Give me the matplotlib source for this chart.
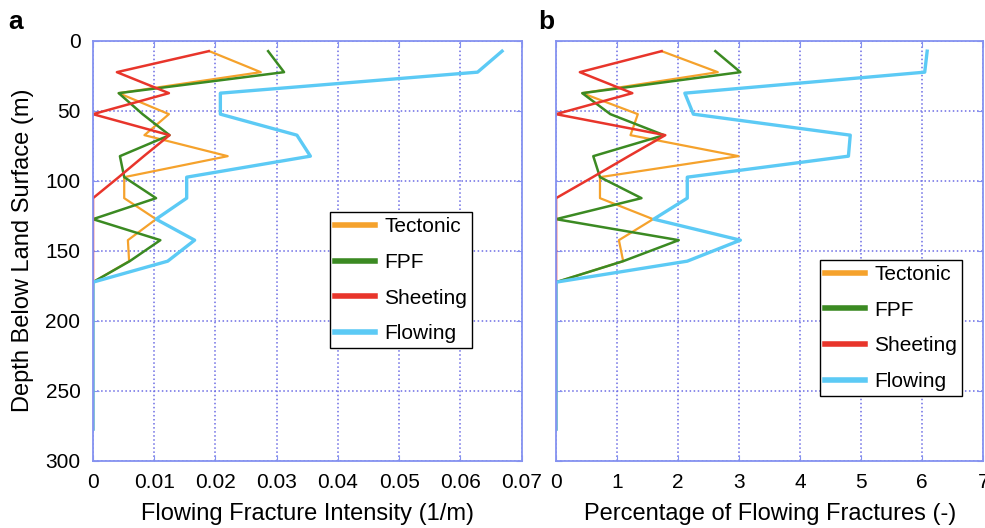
import matplotlib
matplotlib.use("Agg")
import matplotlib.pyplot as plt

plt.rcParams['font.family'] = ['Liberation Sans', 'DejaVu Sans']

# depth of each sampled interval (m)
depth = [7.5, 22.5, 37.5, 52.5, 67.5, 82.5, 97.5, 112.5, 127.5, 142.5,
         157.5, 172.5, 187.5, 202.5, 217.5, 232.5, 247.5, 262.5, 277.5]

# flowing fracture intensity (1/m)
tectonic_a = [0.0190, 0.0274, 0.0042, 0.0124, 0.0084, 0.0220, 0.0051, 0.0051, 0.0103, 0.0057,
              0.0059, 0.0, 0.0, 0.0, 0.0, 0.0, 0.0, 0.0, 0.0]
fpf_a = [0.0286, 0.0312, 0.0042, 0.0081, 0.0125, 0.0044, 0.0051, 0.0103, 0.0, 0.0110,
         0.0060, 0.0, 0.0, 0.0, 0.0, 0.0, 0.0, 0.0, 0.0]
sheeting_a = [0.0189, 0.0039, 0.0124, 0.0, 0.0125, 0.0083, 0.0042, 0.0, 0.0, 0.0,
              0.0, 0.0, 0.0, 0.0, 0.0, 0.0, 0.0, 0.0, 0.0]
flowing_a = [0.0668, 0.0628, 0.0208, 0.0208, 0.0333, 0.0355, 0.0153, 0.0153, 0.0103, 0.0166,
             0.0122, 0.0, 0.0, 0.0, 0.0, 0.0, 0.0, 0.0, 0.0]

# percentage of flowing fractures (-)
tectonic_b = [1.73, 2.65, 0.43, 1.34, 1.22, 2.99, 0.72, 0.72, 1.59, 1.03,
              1.10, 0.0, 0.0, 0.0, 0.0, 0.0, 0.0, 0.0, 0.0]
fpf_b = [2.61, 3.02, 0.43, 0.89, 1.77, 0.61, 0.72, 1.40, 0.0, 2.01,
         1.10, 0.0, 0.0, 0.0, 0.0, 0.0, 0.0, 0.0, 0.0]
sheeting_b = [1.73, 0.39, 1.25, 0.0, 1.79, 1.19, 0.60, 0.0, 0.0, 0.0,
              0.0, 0.0, 0.0, 0.0, 0.0, 0.0, 0.0, 0.0, 0.0]
flowing_b = [6.08, 6.04, 2.11, 2.25, 4.82, 4.79, 2.15, 2.15, 1.60, 3.02,
             2.15, 0.0, 0.0, 0.0, 0.0, 0.0, 0.0, 0.0, 0.0]

series_names = ['Tectonic', 'FPF', 'Sheeting', 'Flowing']
colors = ['#f5a22c', '#3b8a22', '#e8352b', '#5ccaf5']
widths = [1.6, 1.8, 1.8, 2.4]

xticks_a = [0, 0.01, 0.02, 0.03, 0.04, 0.05, 0.06, 0.07]
xticklabels_a = ['0', '0.01', '0.02', '0.03', '0.04', '0.05', '0.06', '0.07']
xticks_b = [0, 1, 2, 3, 4, 5, 6, 7]
yticks = [0, 50, 100, 150, 200, 250, 300]

AXIS_BLUE = '#8592f0'
GRID_BLUE = '#6c6ce4'


def style_axis(ax, xmax):
    ax.set_xlim(0, xmax)
    ax.set_ylim(300, 0)
    ax.set_yticks(yticks)
    ax.grid(True, linestyle=':', color=GRID_BLUE, linewidth=1.1)
    for sp in ax.spines.values():
        sp.set_color(AXIS_BLUE)
        sp.set_linewidth(1.3)
    ax.tick_params(direction='in', length=4, color=AXIS_BLUE, labelsize=15,
                   top=True, right=True, pad=9)


def draw_panel(ax, values, legend_anchor):
    for name, vals, c, lw in zip(series_names, values, colors, widths):
        ax.plot(vals, depth, color=c, lw=lw, label=name)
    leg = ax.legend(loc='upper left', bbox_to_anchor=legend_anchor, fontsize=15,
                    fancybox=False, framealpha=1, edgecolor='black',
                    handlelength=1.9, handletextpad=0.45, labelspacing=0.8,
                    borderpad=0.25, borderaxespad=0)
    leg.get_frame().set_linewidth(1.0)
    for h in leg.get_lines():
        h.set_linewidth(4)


fig = plt.figure(figsize=(9.85, 5.28), dpi=100)
ax_a = fig.add_axes([0.0944, 0.1275, 0.4352, 0.7955])
ax_b = fig.add_axes([0.5645, 0.1275, 0.4338, 0.7955])

style_axis(ax_a, 0.07)
ax_a.set_xticks(xticks_a)
ax_a.set_xticklabels(xticklabels_a)
draw_panel(ax_a, [tectonic_a, fpf_a, sheeting_a, flowing_a], (0.553, 0.592))
ax_a.set_xlabel('Flowing Fracture Intensity (1/m)', fontsize=17, labelpad=8)
ax_a.set_ylabel('Depth Below Land Surface (m)', fontsize=17, labelpad=8)

style_axis(ax_b, 7)
ax_b.set_xticks(xticks_b)
ax_b.set_yticklabels([])
draw_panel(ax_b, [tectonic_b, fpf_b, sheeting_b, flowing_b], (0.618, 0.478))
ax_b.set_xlabel('Percentage of Flowing Fractures (-)', fontsize=17, labelpad=8)

fig.text(0.008, 0.945, 'a', fontsize=19, fontweight='bold')
fig.text(0.546, 0.945, 'b', fontsize=19, fontweight='bold')

fig.savefig('out.png', dpi=100)
